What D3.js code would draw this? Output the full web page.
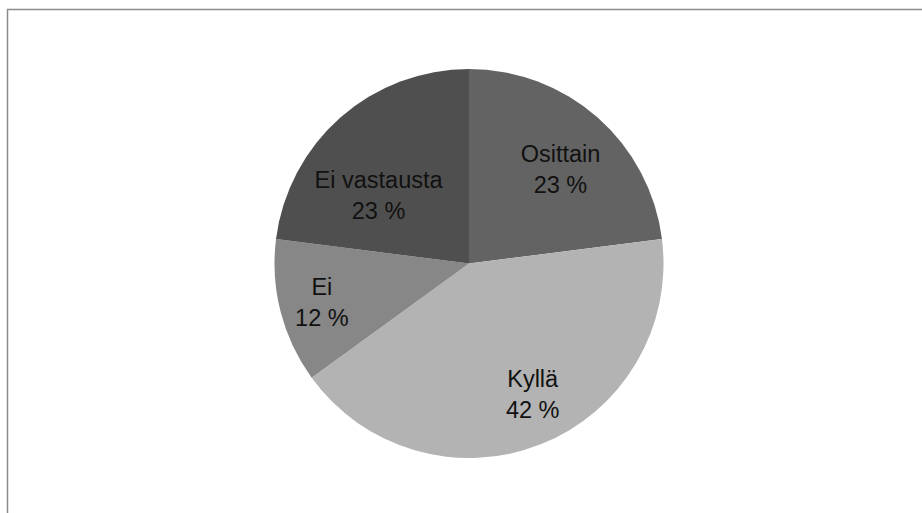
<!DOCTYPE html>
<html>
<head>
<meta charset="utf-8">
<script src="https://cdn.jsdelivr.net/npm/d3@7/dist/d3.min.js"></script>
<style>
  html, body { margin: 0; padding: 0; background: #fff; }
  svg { display: block; }
</style>
</head>
<body>
<svg id="chart" width="922" height="513"></svg>
<script>
// Answer categories, in drawing order (clockwise from 12 o'clock)
const categories = ["Osittain", "Kyllä", "Ei", "Ei vastausta"];
// Share of answers, percent
const values = [23, 42, 12, 23];
// Slice fills
const colors = ["#636363", "#b3b3b3", "#878787", "#4f4f4f"];
// Small per-label shifts from the slice centroid, so the text sits clear of edges
const labelNudge = [[4, 4], [15, 7], [-19, 5], [-3, 30]];

const width = 922, height = 513;
const cx = 469, cy = 263.5, radius = 194.5;

const svg = d3.select("#chart");

// Chart area frame
svg.append("rect")
  .attr("x", 7.5).attr("y", 9.5)
  .attr("width", width).attr("height", height)
  .attr("fill", "#fff")
  .attr("stroke", "#8c8c8c")
  .attr("stroke-width", 1.5);

const data = categories.map((c, i) => ({ name: c, value: values[i], color: colors[i], nudge: labelNudge[i] }));

const pie = d3.pie().value(d => d.value).sort(null);
const arc = d3.arc().innerRadius(0).outerRadius(radius);
const labelArc = d3.arc().innerRadius(radius * 0.68).outerRadius(radius * 0.68);

const g = svg.append("g").attr("transform", `translate(${cx},${cy})`);
const arcs = pie(data);

g.selectAll("path.slice")
  .data(arcs)
  .join("path")
  .attr("class", "slice")
  .attr("d", arc)
  .attr("fill", d => d.data.color);

const fmt = v => `${v} %`;

const labels = g.selectAll("text.label")
  .data(arcs)
  .join("text")
  .attr("class", "label")
  .attr("text-anchor", "middle")
  .attr("font-family", "'Liberation Sans', Arial, sans-serif")
  .attr("font-size", 23.5)
  .attr("fill", "#111")
  .attr("transform", d => {
    const [x, y] = labelArc.centroid(d);
    return `translate(${x + d.data.nudge[0]},${y + d.data.nudge[1]})`;
  });

labels.append("tspan")
  .attr("x", 0).attr("y", -6.5)
  .text(d => d.data.name);
labels.append("tspan")
  .attr("x", 0).attr("y", 24.5)
  .text(d => fmt(d.data.value));
</script>
</body>
</html>
